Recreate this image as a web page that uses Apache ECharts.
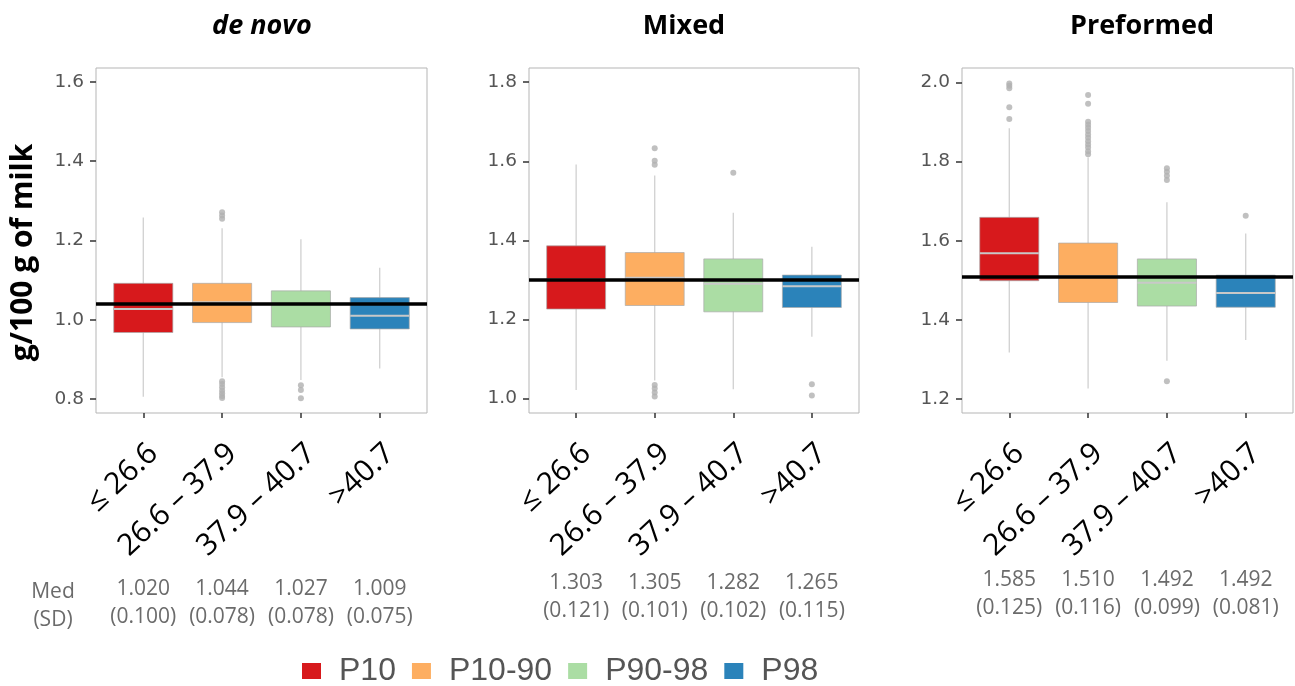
<!DOCTYPE html>
<html>
<head>
<meta charset="utf-8">
<title>Fatty acid groups by class</title>
<script src="https://cdn.jsdelivr.net/npm/echarts@6/dist/echarts.min.js"></script>
<style>
html, body { margin: 0; padding: 0; background: #fff; }
#main { width: 1295px; height: 686px; }
</style>
</head>
<body>
<div id="main"></div>
<script>
var groupNames = ['P10', 'P10-90', 'P90-98', 'P98'];
var groupColors = ['#d7191c', '#fdae61', '#abdda4', '#2b83ba'];
var classLabels = ['≤ 26.6', '26.6 – 37.9', '37.9 – 40.7', '>40.7'];
var panelTitles = ['de novo', 'Mixed', 'Preformed'];

// box stats: [lower whisker, Q1, median, Q3, upper whisker], one per group
var deNovoBoxes = [
    [0.806, 0.968, 1.027, 1.092, 1.258],
    [0.855, 0.993, 1.044, 1.092, 1.231],
    [0.848, 0.982, 1.040, 1.073, 1.203],
    [0.877, 0.977, 1.010, 1.056, 1.131]
];
var mixedBoxes = [
    [1.021, 1.226, 1.301, 1.386, 1.592],
    [1.045, 1.235, 1.305, 1.369, 1.564],
    [1.023, 1.219, 1.290, 1.353, 1.470],
    [1.156, 1.230, 1.284, 1.312, 1.384]
];
var preformedBoxes = [
    [1.318, 1.499, 1.568, 1.659, 1.884],
    [1.227, 1.444, 1.510, 1.594, 1.810],
    [1.297, 1.435, 1.494, 1.554, 1.697],
    [1.349, 1.432, 1.468, 1.513, 1.618]
];

// outliers: [group (1..4), value]
var deNovoOutliers = [
    [2, 1.271], [2, 1.263], [2, 1.255], [2, 0.845], [2, 0.838], [2, 0.830], [2, 0.822],
    [2, 0.815], [2, 0.808], [2, 0.803], [3, 0.835], [3, 0.823], [3, 0.802]
];
var mixedOutliers = [
    [2, 1.633], [2, 1.601], [2, 1.591], [2, 1.034], [2, 1.025], [2, 1.015], [2, 1.005],
    [3, 1.571], [4, 1.036], [4, 1.007]
];
var preformedOutliers = [
    [1, 1.997], [1, 1.991], [1, 1.985], [1, 1.937], [1, 1.907],
    [2, 1.968], [2, 1.946], [2, 1.900], [2, 1.893], [2, 1.885], [2, 1.877], [2, 1.868],
    [2, 1.860], [2, 1.851], [2, 1.843], [2, 1.835], [2, 1.826], [2, 1.818],
    [3, 1.783], [3, 1.774], [3, 1.764], [3, 1.753], [3, 1.245], [4, 1.663]
];

// overall reference (black line)
var refLines = [1.043, 1.301, 1.507];

// median and SD under each box
var deNovoMed = ['1.020', '1.044', '1.027', '1.009'];
var deNovoSd = ['0.100', '0.078', '0.078', '0.075'];
var mixedMed = ['1.303', '1.305', '1.282', '1.265'];
var mixedSd = ['0.121', '0.101', '0.102', '0.115'];
var preformedMed = ['1.585', '1.510', '1.492', '1.492'];
var preformedSd = ['0.125', '0.116', '0.099', '0.081'];

// y axis ticks / ranges
var yTicks = [
    [0.8, 1.0, 1.2, 1.4, 1.6],
    [1.0, 1.2, 1.4, 1.6, 1.8],
    [1.2, 1.4, 1.6, 1.8, 2.0]
];
var yMin = [0.765, 0.963, 1.165];
var yMax = [1.635, 1.836, 2.036];

var allBoxes = [deNovoBoxes, mixedBoxes, preformedBoxes];
var allOutliers = [deNovoOutliers, mixedOutliers, preformedOutliers];
var allMed = [deNovoMed, mixedMed, preformedMed];
var allSd = [deNovoSd, mixedSd, preformedSd];

var myChart = echarts.init(document.getElementById('main'));

var gridLeft = [96, 529, 962];
var gridWidth = [331, 330, 331];
var titleCenter = [257, 679, 1137];
var medOffset = [162, 156, 153];
var catPos = [1, 2, 3, 4];

function renderBox(params, api) {
    var x = api.value(0);
    var lo = api.coord([x, api.value(1)]);
    var q1 = api.coord([x, api.value(2)]);
    var md = api.coord([x, api.value(3)]);
    var q3 = api.coord([x, api.value(4)]);
    var hi = api.coord([x, api.value(5)]);
    var w = api.size([0.75, 0])[0];
    var color = api.visual('color');
    return {
        type: 'group',
        children: [{
            type: 'line',
            shape: { x1: lo[0], y1: lo[1], x2: hi[0], y2: hi[1] },
            style: { stroke: '#d0d0d0', lineWidth: 1.3 }
        }, {
            type: 'rect',
            shape: { x: q3[0] - w / 2, y: q3[1], width: w, height: q1[1] - q3[1] },
            style: { fill: color, stroke: 'rgba(170,170,170,0.7)', lineWidth: 1 }
        }, {
            type: 'line',
            shape: { x1: md[0] - w / 2, y1: md[1], x2: md[0] + w / 2, y2: md[1] },
            style: { stroke: '#c8c8c8', lineWidth: 2 }
        }]
    };
}

var grids = [], xAxes = [], yAxes = [], series = [], titles = [];

for (var p = 0; p < 3; p++) {
    grids.push({
        left: gridLeft[p], top: 68, width: gridWidth[p], height: 345,
        show: true, borderColor: '#b5b5b5', borderWidth: 1, backgroundColor: '#fff',
        outerBoundsMode: 'none'
    });

    // class labels
    xAxes.push({
        type: 'value', gridIndex: p, min: 0.4, max: 4.6,
        axisLine: { show: false },
        splitLine: { show: false },
        axisTick: { show: true, customValues: catPos, length: 5, lineStyle: { color: '#333', width: 1.5 } },
        axisLabel: {
            customValues: catPos,
            formatter: function (v) { return classLabels[Math.round(v) - 1]; },
            rotate: 43, verticalAlign: 'top', margin: 25,
            color: '#000', fontSize: 30, fontFamily: 'Open Sans'
        }
    });
    // median (SD) row
    (function (pi) {
        xAxes.push({
            type: 'value', gridIndex: pi, min: 0.4, max: 4.6, position: 'bottom', offset: medOffset[pi],
            axisLine: { show: false },
            splitLine: { show: false },
            axisTick: { show: false },
            axisLabel: {
                customValues: catPos,
                formatter: function (v) {
                    var k = Math.round(v) - 1;
                    return allMed[pi][k] + '\n(' + allSd[pi][k] + ')';
                },
                margin: 0, color: '#6b6b6b', fontSize: 21, lineHeight: 28, fontFamily: 'Open Sans'
            }
        });
    })(p);

    yAxes.push({
        type: 'value', gridIndex: p, min: yMin[p], max: yMax[p],
        name: p === 0 ? 'g/100 g of milk' : '',
        nameLocation: 'middle', nameGap: 58, nameRotate: 90,
        nameTextStyle: {
            fontSize: 30, fontWeight: 'bold', color: '#000', fontFamily: 'Open Sans',
            padding: [0, 24, 0, 0]
        },
        axisLine: { show: false },
        splitLine: { show: false },
        axisTick: { show: true, customValues: yTicks[p], length: 6, lineStyle: { color: '#333', width: 1.5 } },
        axisLabel: {
            customValues: yTicks[p],
            formatter: function (v) { return v.toFixed(1); },
            margin: 12, color: '#555', fontSize: 18.5, fontFamily: 'DejaVu Sans'
        }
    });

    titles.push({
        text: panelTitles[p], left: titleCenter[p], top: 8, textAlign: 'center',
        textStyle: {
            fontSize: 27, fontWeight: 'bold', fontStyle: p === 0 ? 'italic' : 'normal',
            color: '#000', fontFamily: 'Open Sans'
        }
    });

    for (var g = 0; g < 4; g++) {
        var b = allBoxes[p][g];
        series.push({
            name: groupNames[g],
            type: 'custom',
            xAxisIndex: p * 2, yAxisIndex: p,
            renderItem: renderBox,
            itemStyle: { color: groupColors[g] },
            encode: { x: 0, y: [1, 2, 3, 4, 5] },
            data: [[g + 1, b[0], b[1], b[2], b[3], b[4]]],
            z: 2
        });
    }

    series.push({
        name: 'outliers',
        type: 'scatter',
        xAxisIndex: p * 2, yAxisIndex: p,
        symbolSize: 6,
        itemStyle: { color: '#b0b0b0' },
        data: allOutliers[p],
        z: 3,
        markLine: {
            silent: true,
            symbol: ['none', 'none'],
            label: { show: false },
            lineStyle: { color: '#000', width: 3.5, type: 'solid' },
            data: [{ yAxis: refLines[p] }]
        }
    });
}

titles.push({
    text: 'Med\n(SD)', left: 48, top: 573, textAlign: 'center',
    textStyle: { fontSize: 21, lineHeight: 28, fontWeight: 'normal', color: '#6b6b6b', fontFamily: 'Open Sans' }
});

var option = {
    animation: false,
    backgroundColor: '#fff',
    title: titles,
    legend: {
        data: groupNames.map(function (n) { return { name: n, icon: 'rect' }; }),
        left: 297, top: 650,
        itemWidth: 19, itemHeight: 16, itemGap: 16,
        textStyle: { fontSize: 32, color: '#555', fontFamily: 'Liberation Sans', padding: [0, 0, 0, 13] }
    },
    grid: grids,
    xAxis: xAxes,
    yAxis: yAxes,
    series: series
};

myChart.setOption(option);
</script>
</body>
</html>
